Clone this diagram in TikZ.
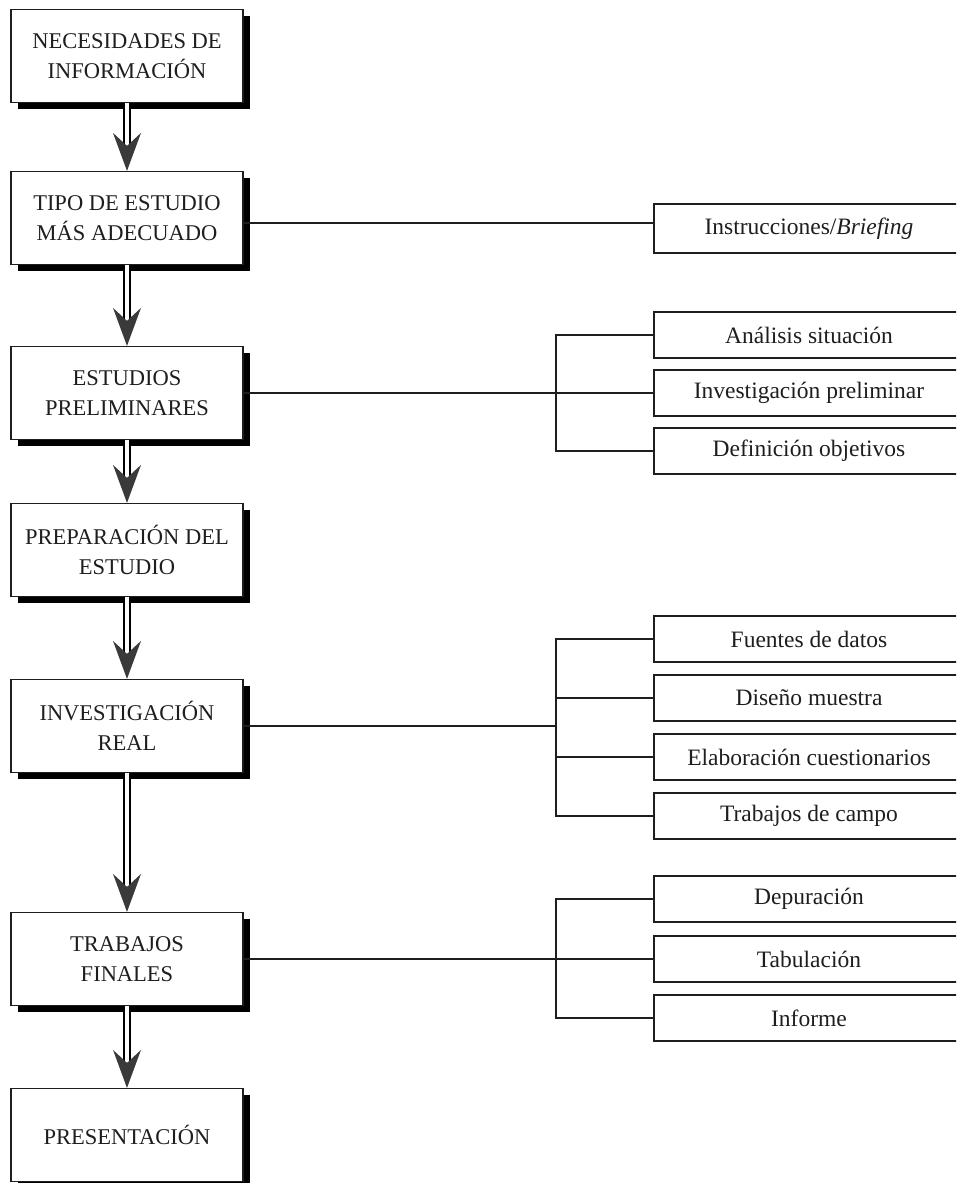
\documentclass[tikz,border=0pt]{standalone}
\usepackage{fontspec}
\setmainfont{Liberation Serif}
\usetikzlibrary{shadows,calc}
\definecolor{inkc}{HTML}{1E1E1E}
\definecolor{headc}{HTML}{3A3A3A}
\tikzset{
  mainbox/.style={draw=inkc, line width=1.2pt, fill=white, minimum width=232pt, minimum height=93pt,
    align=center, inner sep=0pt, text=inkc, font=\fontsize{22.5}{30}\selectfont,
    drop shadow={shadow xshift=6.5pt, shadow yshift=-6.5pt, opacity=1, fill=black}},
  sidebox/.style={draw=inkc, line width=1.4pt, fill=white, minimum width=310pt, minimum height=46pt,
    inner sep=0pt, text=inkc, font=\fontsize{23.5}{26}\selectfont},
  conn/.style={draw=inkc, line width=1.5pt},
  shaft/.style={draw=black, line width=1.6pt, double=white, double distance=4.5pt},
  headfill/.style={fill=headc}
}
\begin{document}
\begin{tikzpicture}[x=1pt,y=-1pt]
\useasboundingbox (0,0) rectangle (956,1183);
\clip (0,0) rectangle (956,1183);
\fill[white] (0,0) rectangle (956,1183);

% main column
\node[mainbox] (nec) at (127,56) {NECESIDADES DE\\INFORMACIÓN};
\node[mainbox] (tipo) at (127,218) {TIPO DE ESTUDIO\\MÁS ADECUADO};
\node[mainbox] (est) at (127,393) {ESTUDIOS\\PRELIMINARES};
\node[mainbox] (prep) at (127,550) {PREPARACIÓN DEL\\ESTUDIO};
\node[mainbox] (invr) at (127,726) {INVESTIGACIÓN\\REAL};
\node[mainbox] (trab) at (127,959) {TRABAJOS\\FINALES};
\node[mainbox] (pres) at (127,1135) {PRESENTACIÓN};

% side boxes
\node[sidebox, minimum height=49pt] (instr) at (809,228.5) {Instrucciones/\textit{Briefing}};
\node[sidebox] (ana) at (809,335) {Análisis situación};
\node[sidebox] (invp) at (809,393) {Investigación preliminar};
\node[sidebox] (def) at (809,451) {Definición objetivos};
\node[sidebox] (fue) at (809,639) {Fuentes de datos};
\node[sidebox] (dis) at (809,698) {Diseño muestra};
\node[sidebox] (ela) at (809,757) {Elaboración cuestionarios};
\node[sidebox] (tra) at (809,816) {Trabajos de campo};
\node[sidebox] (dep) at (809,899) {Depuración};
\node[sidebox] (tab) at (809,959) {Tabulación};
\node[sidebox] (inf) at (809,1018) {Informe};

% connectors to side boxes
\coordinate (j1) at (654,223);
\coordinate (k) at (556,0);
\draw[conn] (tipo.east |- j1) -- (j1);

\draw[conn] (est.east) -- (est.east -| k);
\draw[conn] (ana.west) -- (ana.west -| k) -- (def.west -| k) -- (def.west);
\draw[conn] (invp.west) -- (invp.west -| k);

\draw[conn] (invr.east) -- (invr.east -| k);
\draw[conn] (fue.west) -- (fue.west -| k) -- (tra.west -| k) -- (tra.west);
\draw[conn] (dis.west) -- (dis.west -| k);
\draw[conn] (ela.west) -- (ela.west -| k);

\draw[conn] (trab.east) -- (trab.east -| k);
\draw[conn] (dep.west) -- (dep.west -| k) -- (inf.west -| k) -- (inf.west);
\draw[conn] (tab.west) -- (tab.west -| k);

% double arrows
\foreach \a/\b in {nec/tipo, tipo/est, est/prep, prep/invr, invr/trab, trab/pres}{
  \draw[shaft] (\a.south) -- ($(\b.north)+(0,-24)$);
  \fill[headfill] (\b.north) -- ++(-14,-38) -- ++(14,13) -- ++(14,-13) -- cycle;
}
\end{tikzpicture}
\end{document}
